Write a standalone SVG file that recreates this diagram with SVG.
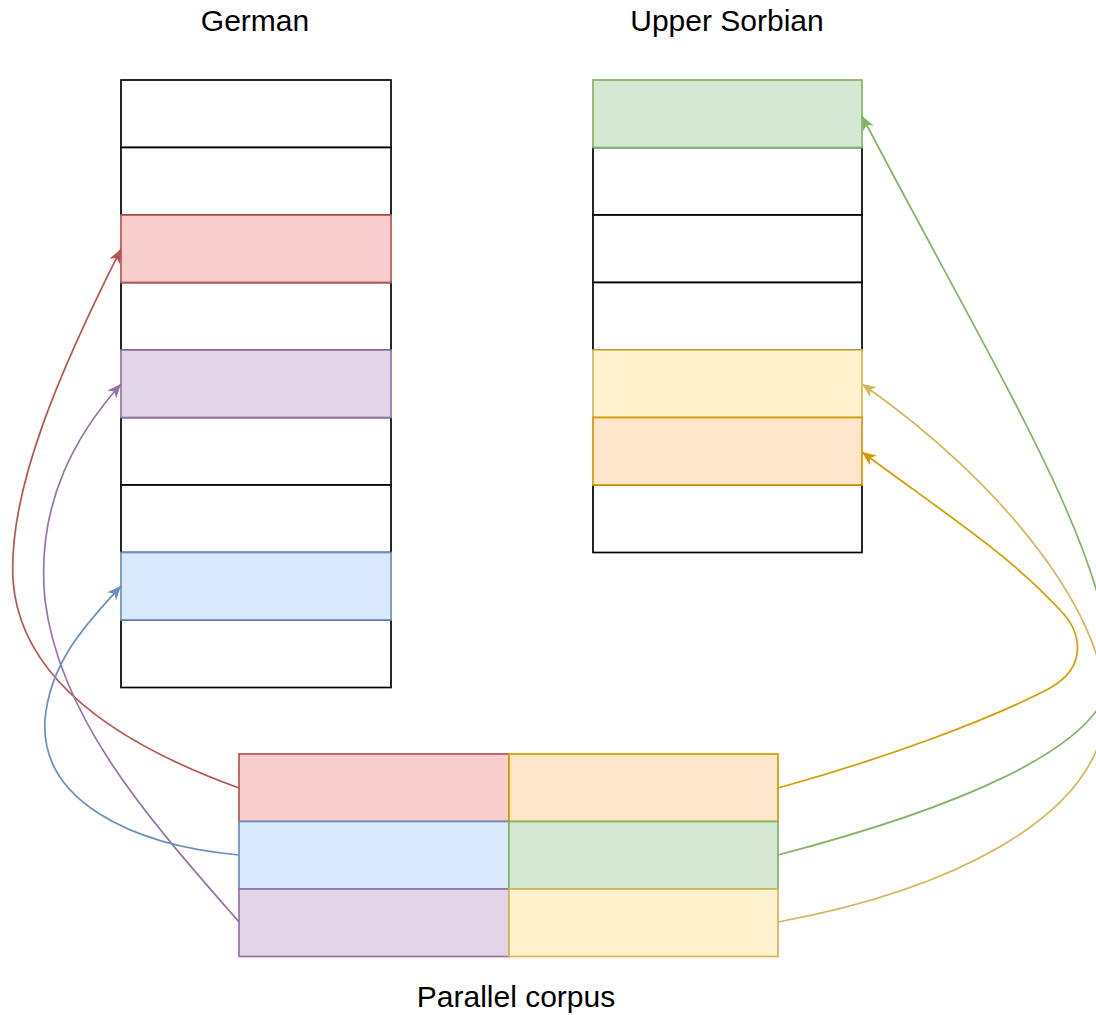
<svg xmlns="http://www.w3.org/2000/svg" width="1096" height="1015" viewBox="0 0 1096 1015">
  <style>
    .lbl { font-family: "Liberation Sans", Arial, sans-serif; font-size: 30px; fill: #000; text-anchor: middle; }
    rect { stroke-width: 1.7; }
    .plain { fill: #ffffff; stroke: #000000; }
    .red { fill: #f8cecc; stroke: #b85450; }
    .purple { fill: #e1d5e7; stroke: #9673a6; }
    .blue { fill: #dae8fc; stroke: #6c8ebf; }
    .green { fill: #d5e8d4; stroke: #82b366; }
    .yellow { fill: #fff2cc; stroke: #d6b656; }
    .orange { fill: #ffe6cc; stroke: #d79b00; }
    .edge { fill: none; stroke-width: 1.7; }
  </style>
  <defs>
    <marker id="arR" viewBox="0 0 14 12" refX="14" refY="6" markerWidth="14" markerHeight="12" markerUnits="userSpaceOnUse" orient="auto"><path d="M0,0 L14,6 L0,12 L4,6 Z" fill="#b85450"/></marker>
    <marker id="arP" viewBox="0 0 14 12" refX="14" refY="6" markerWidth="14" markerHeight="12" markerUnits="userSpaceOnUse" orient="auto"><path d="M0,0 L14,6 L0,12 L4,6 Z" fill="#9673a6"/></marker>
    <marker id="arB" viewBox="0 0 14 12" refX="14" refY="6" markerWidth="14" markerHeight="12" markerUnits="userSpaceOnUse" orient="auto"><path d="M0,0 L14,6 L0,12 L4,6 Z" fill="#6c8ebf"/></marker>
    <marker id="arG" viewBox="0 0 14 12" refX="14" refY="6" markerWidth="14" markerHeight="12" markerUnits="userSpaceOnUse" orient="auto"><path d="M0,0 L14,6 L0,12 L4,6 Z" fill="#82b366"/></marker>
    <marker id="arY" viewBox="0 0 14 12" refX="14" refY="6" markerWidth="14" markerHeight="12" markerUnits="userSpaceOnUse" orient="auto"><path d="M0,0 L14,6 L0,12 L4,6 Z" fill="#d6b656"/></marker>
    <marker id="arO" viewBox="0 0 14 12" refX="14" refY="6" markerWidth="14" markerHeight="12" markerUnits="userSpaceOnUse" orient="auto"><path d="M0,0 L14,6 L0,12 L4,6 Z" fill="#d79b00"/></marker>
  </defs>

  <rect width="1096" height="1015" fill="#ffffff"/>

  <!-- Titles -->
  <g id="title-german"><text class="lbl" x="255" y="31">German</text></g>
  <g id="title-sorbian"><text class="lbl" x="727" y="31">Upper Sorbian</text></g>
  <g id="title-corpus"><text class="lbl" x="516" y="1007">Parallel corpus</text></g>

  <!-- German sentence column -->
  <g id="de">
    <g id="de-1"><rect class="plain" x="121" y="80" width="270" height="67.5"/></g>
    <g id="de-2"><rect class="plain" x="121" y="147.5" width="270" height="67.5"/></g>
    <g id="de-4"><rect class="plain" x="121" y="282.5" width="270" height="67.5"/></g>
    <g id="de-6"><rect class="plain" x="121" y="417.5" width="270" height="67.5"/></g>
    <g id="de-7"><rect class="plain" x="121" y="485" width="270" height="67.5"/></g>
    <g id="de-9"><rect class="plain" x="121" y="620" width="270" height="67.5"/></g>
    <g id="de-3"><rect class="red" x="121" y="215" width="270" height="67.5"/></g>
    <g id="de-5"><rect class="purple" x="121" y="350" width="270" height="67.5"/></g>
    <g id="de-8"><rect class="blue" x="121" y="552.5" width="270" height="67.5"/></g>
  </g>

  <!-- Upper Sorbian sentence column -->
  <g id="hsb">
    <g id="hsb-2"><rect class="plain" x="593" y="147.5" width="269" height="67.5"/></g>
    <g id="hsb-3"><rect class="plain" x="593" y="215" width="269" height="67.5"/></g>
    <g id="hsb-4"><rect class="plain" x="593" y="282.5" width="269" height="67.5"/></g>
    <g id="hsb-7"><rect class="plain" x="593" y="485" width="269" height="67.5"/></g>
    <g id="hsb-1"><rect class="green" x="593" y="80" width="269" height="67.5"/></g>
    <g id="hsb-5"><rect class="yellow" x="593" y="350" width="269" height="67.5"/></g>
    <g id="hsb-6"><rect class="orange" x="593" y="417.5" width="269" height="67.5"/></g>
  </g>

  <!-- Parallel corpus: aligned sentence pairs -->
  <g id="corpus">
    <g id="pair-1-de"><rect class="red" x="239" y="754" width="270" height="67.5"/></g>
    <g id="pair-2-de"><rect class="blue" x="239" y="821.5" width="270" height="67.5"/></g>
    <g id="pair-3-de"><rect class="purple" x="239" y="889" width="270" height="67.5"/></g>
    <g id="pair-1-hsb"><rect class="orange" x="509" y="754" width="269" height="67.5"/></g>
    <g id="pair-2-hsb"><rect class="green" x="509" y="821.5" width="269" height="67.5"/></g>
    <g id="pair-3-hsb"><rect class="yellow" x="509" y="889" width="269" height="67.5"/></g>
  </g>

  <!-- Connectors -->
  <g id="edges">
    <path class="edge" stroke="#b85450" marker-end="url(#arR)" d="M239,788 C120,745 20,680 13,580 C8,490 60,370 121,249"/>
    <path class="edge" stroke="#9673a6" marker-end="url(#arP)" d="M239,922 C150,820 60,720 45,600 C35,500 80,430 121,384"/>
    <path class="edge" stroke="#6c8ebf" marker-end="url(#arB)" d="M239,855 C130,845 40,800 45,720 C50,660 90,620 121,586"/>
    <path class="edge" stroke="#82b366" marker-end="url(#arG)" d="M778,855 C950,810 1100,750 1110,680 C1115,560 1000,380 862,116"/>
    <path class="edge" stroke="#d6b656" marker-end="url(#arY)" d="M778,922 C950,890 1090,820 1105,720 C1115,620 1000,480 862,384"/>
    <path class="edge" stroke="#d79b00" marker-end="url(#arO)" d="M778,788 C880,760 990,720 1050,688 C1090,665 1080,630 1060,610 C1010,555 940,510 862,452"/>
  </g>
</svg>
